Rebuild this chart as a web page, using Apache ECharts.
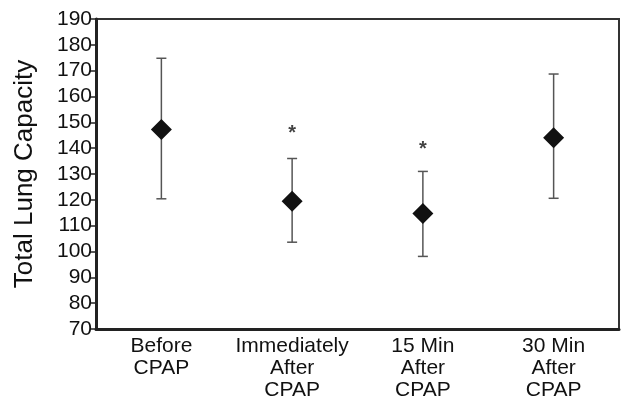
<!DOCTYPE html>
<html>
<head>
<meta charset="utf-8">
<script src="https://cdn.jsdelivr.net/npm/echarts@6/dist/echarts.min.js"></script>
<style>
html,body{margin:0;padding:0;background:#fff;}
#chart{width:621px;height:401px;}
</style>
</head>
<body>
<div id="chart"></div>
<script>
// data
var categories = ['Before\nCPAP', 'Immediately\nAfter\nCPAP', '15 Min\nAfter\nCPAP', '30 Min\nAfter\nCPAP'];
var means = [147.2, 119.5, 114.7, 144];
var upper = [174.8, 136, 131, 168.7];
var lower = [120.4, 103.6, 98.1, 120.6];
var starY = [null, 147.7, 141.4, null];

var font = 'Liberation Sans, Arial, Helvetica, sans-serif';

var chart = echarts.init(document.getElementById('chart'));

var errData = categories.map(function (c, i) { return [i, lower[i], upper[i]]; });
var starData = [];
starY.forEach(function (v, i) { if (v != null) starData.push([i, v]); });

chart.setOption({
    animation: false,
    grid: { left: 96, right: 2, top: 19, bottom: 67, show: true, borderColor: '#333', borderWidth: 2 },
    xAxis: {
        type: 'category',
        data: categories,
        boundaryGap: true,
        axisLine: { lineStyle: { color: '#222', width: 3 } },
        axisTick: { show: false },
        axisLabel: { interval: 0, hideOverlap: false, color: '#111', fontFamily: font, fontSize: 21, lineHeight: 22, margin: 6 }
    },
    yAxis: {
        type: 'value',
        min: 70, max: 190, interval: 10,
        name: 'Total Lung Capacity',
        nameLocation: 'middle',
        nameGap: 58,
        nameTextStyle: { color: '#111', fontFamily: font, fontSize: 26 },
        splitLine: { show: false },
        axisLine: { show: true, lineStyle: { color: '#222', width: 3 } },
        axisTick: { show: true, length: 6, lineStyle: { color: '#222', width: 1.5 } },
        axisLabel: { color: '#111', fontFamily: font, fontSize: 21, margin: 4 }
    },
    series: [
        {
            type: 'custom',
            data: errData,
            z: 2,
            renderItem: function (params, api) {
                var x = api.value(0);
                var lo = api.coord([x, api.value(1)]);
                var hi = api.coord([x, api.value(2)]);
                var w = 5;
                var st = { stroke: '#555', lineWidth: 1.5 };
                return {
                    type: 'group',
                    children: [
                        { type: 'line', shape: { x1: lo[0], y1: lo[1], x2: hi[0], y2: hi[1] }, style: st },
                        { type: 'line', shape: { x1: hi[0] - w, y1: hi[1], x2: hi[0] + w, y2: hi[1] }, style: st },
                        { type: 'line', shape: { x1: lo[0] - w, y1: lo[1], x2: lo[0] + w, y2: lo[1] }, style: st }
                    ]
                };
            }
        },
        {
            type: 'scatter',
            data: means,
            symbol: 'diamond',
            symbolSize: [21, 21],
            z: 3,
            itemStyle: { color: '#111', opacity: 1 }
        },
        {
            type: 'scatter',
            data: starData,
            symbolSize: 1,
            itemStyle: { color: 'rgba(0,0,0,0)' },
            label: {
                show: true, position: 'inside', formatter: '*', offset: [0, 5],
                color: '#111', fontFamily: font, fontSize: 20, fontWeight: 'bold'
            }
        }
    ]
});
</script>
</body>
</html>
